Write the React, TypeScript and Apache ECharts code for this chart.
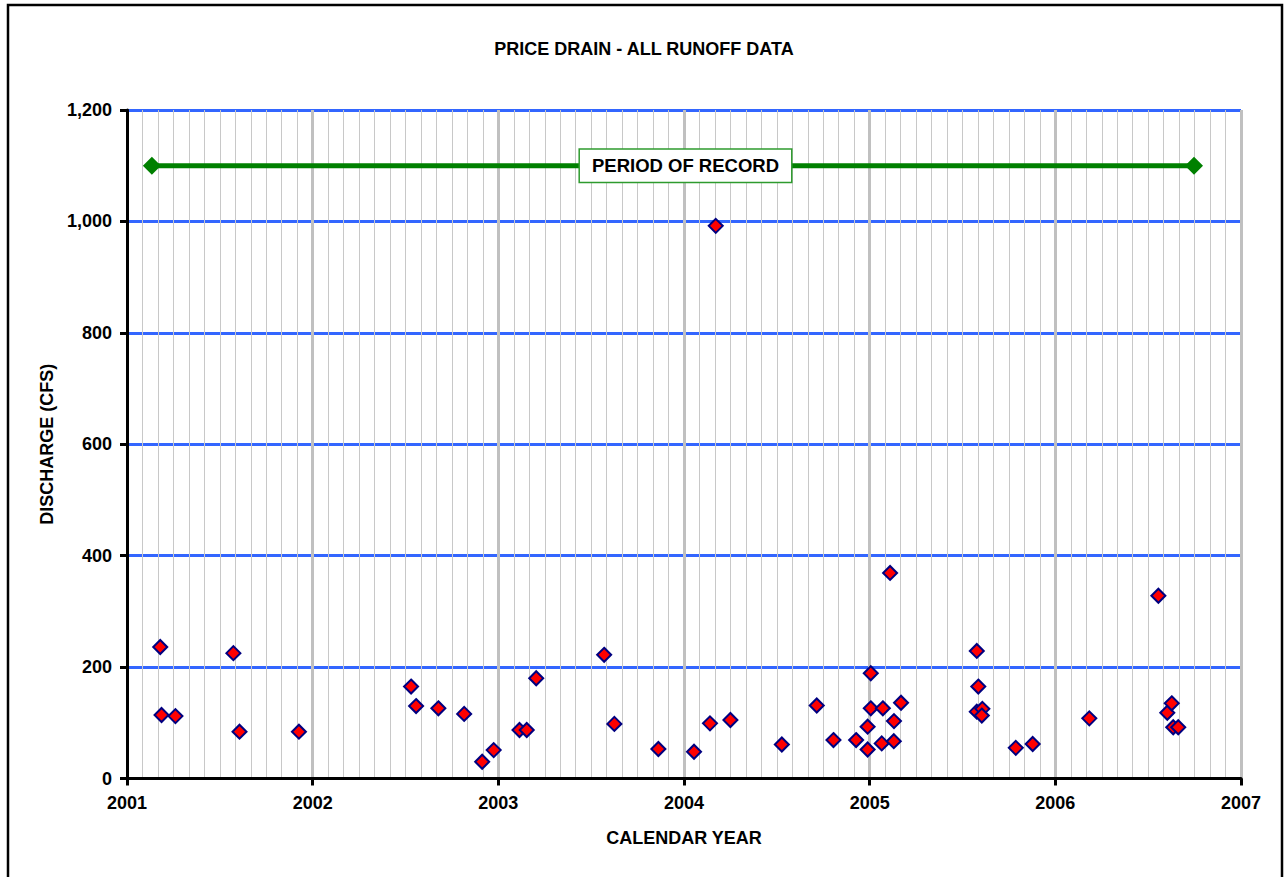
import React, { useEffect, useRef } from "react";
import * as echarts from "echarts";

const FONT = '"Liberation Sans", Arial, sans-serif';

const yearTicks = [2001, 2002, 2003, 2004, 2005, 2006, 2007];
const dischargeTicks = [0, 200, 400, 600, 800, 1000, 1200];

// Sample dates (decimal calendar year) and discharge (cfs)
const sampleYears = [
  2001.179, 2001.186, 2001.261, 2001.573, 2001.606, 2001.926,
  2002.530, 2002.557, 2002.677, 2002.816, 2002.913, 2002.975,
  2003.114, 2003.153, 2003.204, 2003.570, 2003.625, 2003.862,
  2004.054, 2004.140, 2004.171, 2004.250, 2004.527, 2004.715,
  2004.805, 2004.927, 2004.989, 2004.989, 2005.006, 2005.006,
  2005.065, 2005.071, 2005.110, 2005.130, 2005.131, 2005.169,
  2005.577, 2005.585, 2005.577, 2005.607, 2005.604, 2005.787,
  2005.878, 2006.183, 2006.555, 2006.603, 2006.627, 2006.635,
  2006.662,
];
const dischargeCfs = [
  236, 114, 112, 225, 84, 84,
  165, 130, 126, 116, 30, 51,
  87, 87, 180, 222, 98, 53,
  48, 99, 992, 105, 61, 131,
  69, 69, 93, 52, 189, 126,
  63, 126, 369, 67, 103, 136,
  229, 165, 120, 125, 113, 55,
  62, 108, 328, 118, 135, 92,
  92,
];

const periodStartYear = 2001.134;
const periodEndYear = 2006.747;
const periodLevel = 1100;
const periodLabel = "PERIOD OF RECORD";
const periodLabelYear = 2004.008;

export default function App() {
  const ref = useRef<HTMLDivElement>(null);

  useEffect(() => {
    if (!ref.current) return;
    const chart = echarts.init(ref.current, undefined, { renderer: "svg" });
    const points = sampleYears.map((y, i) => [y, dischargeCfs[i]]);
    const labelStyle = { fontFamily: FONT, fontWeight: "bold" as const, fontSize: 18, color: "#000" };
    chart.setOption({
      animation: false,
      backgroundColor: "#fff",
      title: {
        text: "PRICE DRAIN - ALL RUNOFF DATA",
        left: "center",
        top: 35,
        textStyle: { ...labelStyle },
      },
      grid: { left: 127, right: 47, top: 110, bottom: 98.5 },
      xAxis: {
        type: "value",
        min: yearTicks[0],
        max: yearTicks[yearTicks.length - 1],
        interval: 1,
        name: "CALENDAR YEAR",
        nameLocation: "middle",
        nameGap: 50,
        nameTextStyle: { ...labelStyle },
        axisLine: { show: true, onZero: false, lineStyle: { color: "#000", width: 3 } },
        axisTick: { show: true, inside: false, length: 7, lineStyle: { color: "#000", width: 3 } },
        axisLabel: { ...labelStyle, margin: 15, formatter: (v: number) => String(v) },
        splitLine: { show: true, lineStyle: { color: "#C0C0C0", width: 3 } },
        minorTick: { show: false, splitNumber: 12 },
        minorSplitLine: { show: true, lineStyle: { color: "#C8C8C8", width: 1 } },
      },
      yAxis: {
        type: "value",
        min: dischargeTicks[0],
        max: dischargeTicks[dischargeTicks.length - 1],
        interval: 200,
        name: "DISCHARGE (CFS)",
        nameLocation: "middle",
        nameGap: 71,
        nameRotate: 90,
        nameTextStyle: { ...labelStyle },
        axisLine: { show: true, onZero: false, lineStyle: { color: "#000", width: 3 } },
        axisTick: { show: true, inside: false, length: 7, lineStyle: { color: "#000", width: 3 } },
        axisLabel: {
          ...labelStyle,
          margin: 15,
          formatter: (v: number) => v.toLocaleString("en-US"),
        },
        splitLine: { show: true, lineStyle: { color: "#3366FF", width: 3 } },
      },
      graphic: [
        {
          type: "rect",
          z: 100,
          silent: true,
          shape: { x: 8, y: 5, width: 1274, height: 880 },
          style: { fill: "none", stroke: "#000", lineWidth: 2.5 },
        },
      ],
      series: [
        {
          type: "line",
          name: "Period of record",
          data: [
            [periodStartYear, periodLevel],
            [periodEndYear, periodLevel],
          ],
          symbol: "diamond",
          symbolSize: 18,
          showSymbol: true,
          lineStyle: { color: "#008000", width: 5 },
          itemStyle: { color: "#008000", opacity: 1 },
          z: 3,
        },
        {
          type: "scatter",
          name: "label",
          data: [[periodLabelYear, periodLevel]],
          symbol: "circle",
          symbolSize: 1,
          itemStyle: { color: "rgba(0,0,0,0)", opacity: 1 },
          label: {
            show: true,
            position: "inside",
            formatter: periodLabel,
            fontFamily: FONT,
            fontWeight: "bold",
            fontSize: 18.5,
            color: "#000",
            opacity: 1,
            backgroundColor: "#fff",
            borderColor: "#2E9B2E",
            borderWidth: 1.5,
            padding: [7, 12, 6, 12],
          },
          z: 4,
        },
        {
          type: "scatter",
          name: "Runoff",
          data: points,
          symbol: "diamond",
          symbolSize: 14,
          itemStyle: { color: "#FF0000", borderColor: "#000080", borderWidth: 2, opacity: 1 },
          z: 5,
        },
      ],
    });
    return () => chart.dispose();
  }, []);

  return (
    <div
      ref={ref}
      style={{ position: "fixed", left: 0, top: 0, width: 1288, height: 877 }}
    />
  );
}
